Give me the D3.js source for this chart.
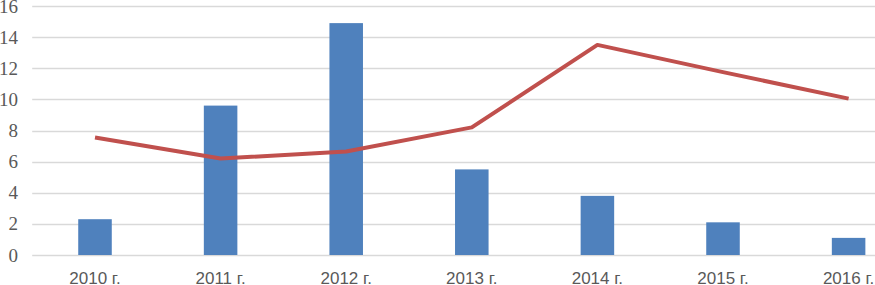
<!DOCTYPE html>
<html>
<head>
<meta charset="utf-8">
<script src="https://cdn.jsdelivr.net/npm/d3@7"></script>
<style>
  body { margin: 0; background: #fff; }
  svg { display: block; }
  .ylab { font-family: "Liberation Serif", "Times New Roman", Times, serif; }
  .xlab { font-family: "Liberation Sans", Arial, sans-serif; }
</style>
</head>
<body>
<div id="chart"></div>
<script>
// chart data
var years = ['2010 г.', '2011 г.', '2012 г.', '2013 г.', '2014 г.', '2015 г.', '2016 г.'];
var barValues = [2.3, 9.6, 14.9, 5.5, 3.8, 2.1, 1.1];
var lineValues = [7.55, 6.2, 6.65, 8.2, 13.5, 11.75, 10.05];
var yTicks = [0, 2, 4, 6, 8, 10, 12, 14, 16];

var width = 875, height = 285;
var left = 32.2, step = 125.6;

var svg = d3.select('#chart').append('svg')
    .attr('width', width)
    .attr('height', height);

var x = d3.scaleBand()
    .domain(years)
    .range([left, left + step * years.length])
    .paddingInner(0.733)
    .paddingOuter(0.3665);

var y = d3.scaleLinear()
    .domain([0, 16])
    .range([255, 6]);

// grid
svg.append('g')
  .selectAll('line').data(yTicks)
  .enter().append('line')
    .attr('x1', left)
    .attr('x2', width)
    .attr('y1', function(d) { return Math.round(y(d)) + 0.5; })
    .attr('y2', function(d) { return Math.round(y(d)) + 0.5; })
    .attr('stroke', '#d9d9d9')
    .attr('stroke-width', 1.3);

// y labels
svg.append('g')
  .selectAll('text').data(yTicks)
  .enter().append('text')
    .attr('class', 'ylab')
    .attr('x', 18)
    .attr('y', function(d) { return y(d) + 6.5; })
    .attr('text-anchor', 'end')
    .attr('font-size', 19)
    .attr('fill', '#595959')
    .text(function(d) { return d; });

// bars
svg.append('g')
  .selectAll('rect').data(barValues)
  .enter().append('rect')
    .attr('x', function(d, i) { return x(years[i]); })
    .attr('y', function(d) { return y(d); })
    .attr('width', x.bandwidth())
    .attr('height', function(d) { return y(0) - y(d); })
    .attr('fill', '#4f81bd');

// line
var line = d3.line()
    .x(function(d, i) { return x(years[i]) + x.bandwidth() / 2; })
    .y(function(d) { return y(d); });

svg.append('path')
    .datum(lineValues)
    .attr('d', line)
    .attr('fill', 'none')
    .attr('stroke', '#c0504d')
    .attr('stroke-width', 4)
    .attr('stroke-linejoin', 'round');

// x labels
svg.append('g')
  .selectAll('text').data(years)
  .enter().append('text')
    .attr('class', 'xlab')
    .attr('x', function(d) { return x(d) + x.bandwidth() / 2; })
    .attr('y', 284)
    .attr('text-anchor', 'middle')
    .attr('font-size', 17)
    .attr('fill', '#595959')
    .text(function(d) { return d; });
</script>
</body>
</html>
